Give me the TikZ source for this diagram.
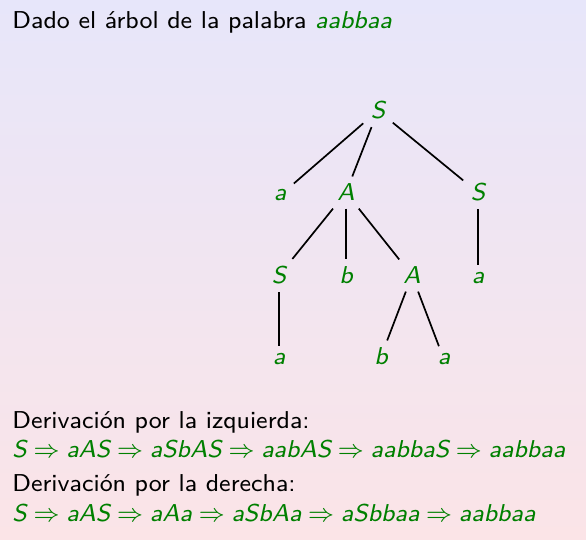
\documentclass[tikz,border=0pt]{standalone}
\usepackage{graphicx}
\definecolor{gr}{rgb}{0,0.5,0}
\definecolor{bgtop}{RGB}{231,230,250}
\definecolor{bgbot}{RGB}{251,228,231}
\newcommand\gsl[1]{{\color{gr}\slshape #1}}
\newcommand\imp{{\color{gr}\hspace{.2778em}$\Rightarrow$\hspace{.2778em}}}
\newcommand\sz[1]{\scalebox{1.525}{\fontsize{8}{10}\selectfont\sffamily #1}}
\begin{document}
\begin{tikzpicture}[x=0.5pt,y=-0.5pt,
  txt/.style={anchor=base west,inner sep=0pt},
  tn/.style={anchor=base,text=gr,inner sep=3.6pt},
  edge/.style={line width=0.85pt,black}]
\useasboundingbox (0,0) rectangle (586,540);
\shade[top color=bgtop,bottom color=bgbot] (0pt,0pt) rectangle (293pt,-270pt);
\node[txt] (title) at (12,29) {\sz{Dado el árbol de la palabra \gsl{aabbaa}}};
% tree
\node[tn] (r) at (378,119) {\sz{\slshape S}};
\node[tn] (a1) at (280,201) {\sz{\slshape a}};
\node[tn] (A1) at (346,201) {\sz{\slshape A}};
\node[tn] (S2) at (478,201) {\sz{\slshape S}};
\node[tn] (S1) at (279,284) {\sz{\slshape S}};
\node[tn] (b1) at (346,284) {\sz{\slshape b}};
\node[tn] (A2) at (412,284) {\sz{\slshape A}};
\node[tn] (a3) at (478,284) {\sz{\slshape a}};
\node[tn] (a2) at (279,365) {\sz{\slshape a}};
\node[tn] (b2) at (381,365) {\sz{\slshape b}};
\node[tn] (a4) at (444,365) {\sz{\slshape a}};
\draw[edge] (r) -- (a1);
\draw[edge] (r) -- (A1);
\draw[edge] (r) -- (S2);
\draw[edge] (A1) -- (S1);
\draw[edge] (A1) -- (b1);
\draw[edge] (A1) -- (A2);
\draw[edge] (S2) -- (a3);
\draw[edge] (S1) -- (a2);
\draw[edge] (A2) -- (b2);
\draw[edge] (A2) -- (a4);
% derivations
\node[txt] (l1) at (12,428.5) {\sz{Derivación por la izquierda:}};
\node[txt] (d1) at (12,457.5) {\sz{\gsl{S}\imp\gsl{aAS}\imp\gsl{aSbAS}\imp\gsl{aabAS}\imp\gsl{aabbaS}\imp\gsl{aabbaa}}};
\node[txt] (l2) at (12,492) {\sz{Derivación por la derecha:}};
\node[txt] (d2) at (12,522) {\sz{\gsl{S}\imp\gsl{aAS}\imp\gsl{aAa}\imp\gsl{aSbAa}\imp\gsl{aSbbaa}\imp\gsl{aabbaa}}};
\end{tikzpicture}
\end{document}
